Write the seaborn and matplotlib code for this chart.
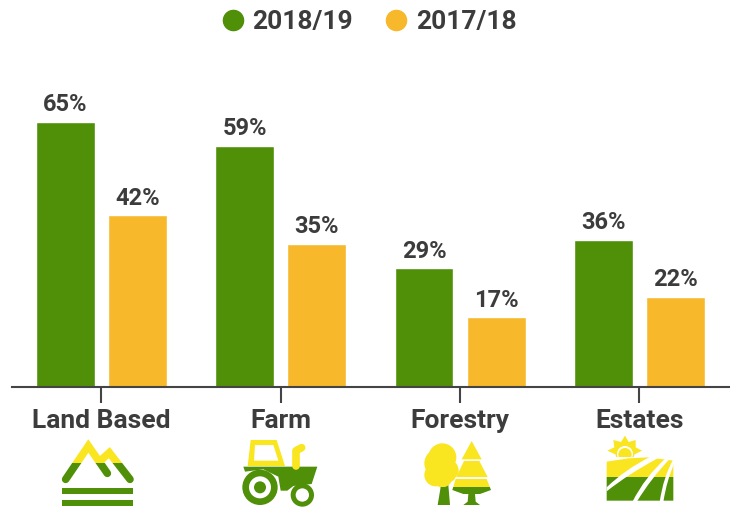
import pandas as pd
import seaborn as sns
import matplotlib
matplotlib.use('Agg')
import matplotlib.pyplot as plt
from matplotlib.lines import Line2D
from matplotlib.patches import Circle, Polygon, Rectangle, PathPatch
from matplotlib.path import Path
from matplotlib.transforms import Affine2D

categories = ['Land Based', 'Farm', 'Forestry', 'Estates']
values_1819 = [65, 59, 29, 36]
values_1718 = [42, 35, 17, 22]
seasons = ['2018/19', '2017/18']

GREEN = '#4F9008'
AMBER = '#F7B92B'
YELLOW = '#F9E620'
TEXT = '#3C3C3C'

sns.set_theme(style='white')
plt.rcParams['font.family'] = ['Roboto', 'DejaVu Sans']
plt.rcParams['font.weight'] = 'bold'

df = pd.DataFrame({
    'category': categories * 2,
    'season': [seasons[0]] * 4 + [seasons[1]] * 4,
    'value': values_1819 + values_1718,
})

W, H = 730, 507
fig = plt.figure(figsize=(W / 100, H / 100), dpi=100)
ax = fig.add_axes([12 / W, 1 - 386.5 / H, 723 / W, 326.5 / H])

sns.barplot(data=df, x='category', y='value', hue='season', hue_order=seasons,
            palette=[GREEN, AMBER], width=0.805, gap=0.185, saturation=1, legend=False, ax=ax)
ax.set_xlim(-0.499, 3.533)
ax.set_ylim(0, 80.1)
ax.set_xlabel('')
ax.set_ylabel('')
ax.set_yticks([])
sns.despine(ax=ax, left=True)
ax.spines['bottom'].set_color('#444444')
ax.spines['bottom'].set_linewidth(1.5)
ax.tick_params(axis='x', bottom=True, length=11.5, width=1.5, color='#444444',
               labelsize=19, labelcolor=TEXT, pad=5)

for cont in ax.containers:
    ax.bar_label(cont, fmt='%g%%', padding=4, fontsize=17, color=TEXT, fontweight='bold')

handles = [Line2D([], [], marker='o', linestyle='', markersize=14.5, color=c)
           for c in [GREEN, AMBER]]
fig.legend(handles, seasons, loc='center', bbox_to_anchor=(368 / W, 1 - 22 / H), ncol=2,
           frameon=False, fontsize=19, labelcolor=TEXT, handlelength=1,
           handletextpad=0.24, columnspacing=1.13)

# icons are drawn in zoom-crop coordinates (3x, crop top at y=380)
over = fig.add_axes([0, 0, 1, 1])
over.set_xlim(0, W)
over.set_ylim(H, 0)
over.axis('off')
over.patch.set_alpha(0)


def crop(ox):
    return Affine2D().scale(1 / 3).translate(ox, 380) + over.transData


def two_tone(make, tr, split, top=YELLOW, bottom=GREEN):
    # same shape twice, clipped above and below the split line
    for col, y0, y1 in [(top, 0, split), (bottom, split, 400)]:
        art = make(col)
        art.set_transform(tr)
        over.add_artist(art)
        art.set_clip_path(Rectangle((0, y0), 1200, y1 - y0, transform=tr))


def solid(art, tr):
    art.set_transform(tr)
    over.add_artist(art)


# mountains
t = crop(0)
for xs, ys in [([197, 265, 322], [298, 198, 280]), ([300, 328, 390], [243, 218, 298])]:
    two_tone(lambda c, xs=xs, ys=ys: Line2D(xs, ys, color=c, lw=5.5, solid_joinstyle='miter'), t, 250)
solid(Rectangle((187, 325), 212, 18, color=GREEN, lw=0), t)
solid(Rectangle((187, 360), 212, 18, color=GREEN, lw=0), t)

# tractor
solid(Polygon([(743, 258), (752, 180), (830, 180), (855, 258)], color=YELLOW, lw=0), t)
solid(Polygon([(765, 195), (820, 195), (835, 242), (762, 242)], color='white', lw=0), t)
solid(Line2D([888, 888, 905], [258, 212, 203], color=YELLOW, lw=5.5), t)
solid(Polygon([(730, 260), (952, 260), (935, 312), (880, 318), (862, 332), (842, 332),
               (835, 290), (790, 268), (735, 275)], color=GREEN, lw=0), t)
solid(Circle((780, 322), 53, color=GREEN, lw=0), t)
solid(Circle((780, 322), 33, color='white', lw=0), t)
solid(Circle((780, 322), 18, color=GREEN, lw=0), t)
solid(Circle((907, 345), 35, color=GREEN, lw=0), t)
solid(Circle((907, 345), 20, color='white', lw=0), t)

# trees
t = crop(365)
solid(Polygon([(228, 315), (250, 315), (255, 375), (218, 375)], color=GREEN, lw=0), t)
for cx, cy, r in [(232, 232, 42), (222, 250, 44), (212, 285, 34), (246, 272, 35), (232, 292, 30)]:
    two_tone(lambda c, cx=cx, cy=cy, r=r: Circle((cx, cy), r, color=c, lw=0), t, 320)
# white halo between the two trees
solid(Polygon([(318, 236), (368, 294), (380, 336), (345, 346), (295, 346), (258, 336),
               (270, 294)], color='white', lw=0), t)
for pts in [[(320, 183), (350, 238), (290, 238)],
            [(297, 243), (343, 243), (368, 291), (274, 291)],
            [(272, 297), (365, 297), (378, 330), (345, 342), (295, 342), (262, 330)]]:
    two_tone(lambda c, pts=pts: Polygon(pts, color=c, lw=0), t, 322)
solid(Polygon([(310, 342), (330, 342), (332, 365), (345, 375), (295, 375), (308, 365)], color=GREEN, lw=0), t)

# field and sun
sun = [(780, 167), (791, 186), (812, 180), (812, 202), (831, 212), (805, 225), (755, 225),
       (727, 212), (748, 202), (745, 180), (768, 186)]
solid(Polygon(sun, color=YELLOW, lw=0), t)
solid(Circle((780, 222), 28, color=YELLOW, lw=0), t)
solid(Circle((780, 222), 24, color='white', lw=0), t)
solid(Circle((780, 224), 20, color=YELLOW, lw=0), t)
solid(Rectangle((735, 231), 90, 12, color='white', lw=0), t)
field = [(725, 245), (790, 235), (850, 232), (925, 242), (925, 362), (725, 362)]
two_tone(lambda c: Polygon(field, color=c, lw=0), t, 292)
codes = [Path.MOVETO, Path.CURVE3, Path.CURVE3, Path.LINETO, Path.CURVE3, Path.CURVE3, Path.CLOSEPOLY]
for pts in [[(860, 228), (780, 268), (725, 322), (725, 334), (790, 282), (880, 234), (860, 228)],
            [(905, 232), (840, 290), (802, 366), (815, 366), (858, 295), (915, 236), (905, 232)],
            [(925, 238), (895, 290), (884, 366), (895, 366), (905, 300), (930, 245), (925, 238)]]:
    solid(PathPatch(Path(pts, codes), color='white', lw=0), t)

fig.savefig('out.png', dpi=100, facecolor='white')
